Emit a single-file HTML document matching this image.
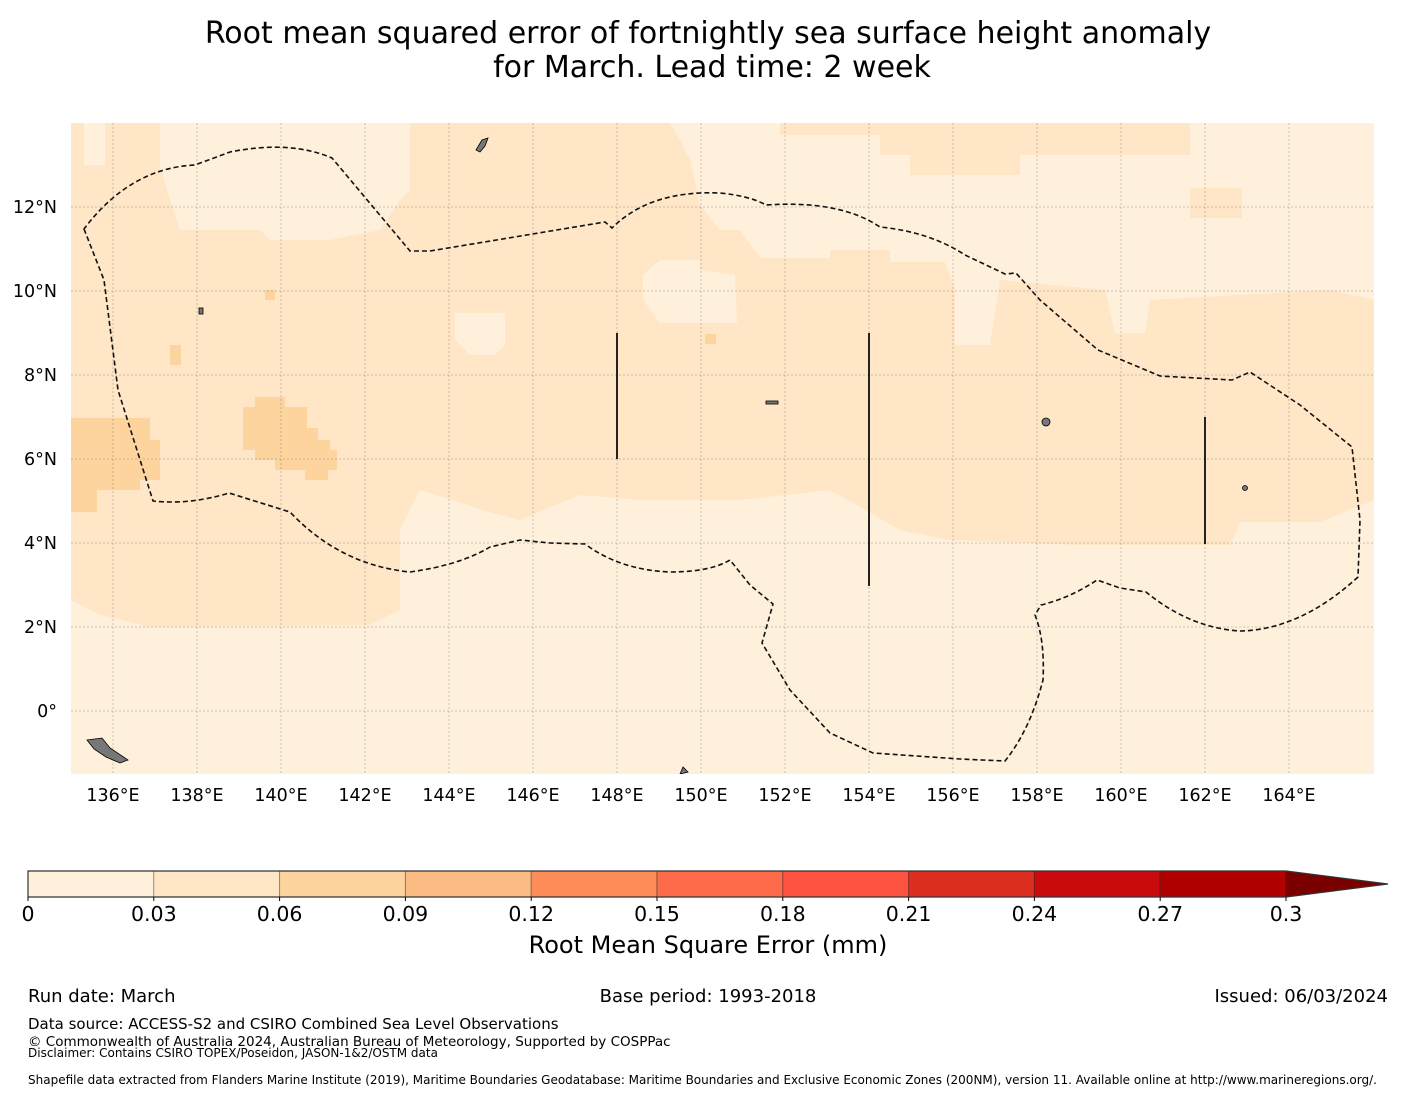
<!DOCTYPE html>
<html><head><meta charset="utf-8"><style>
body{margin:0;background:#fff;width:1416px;height:1095px;overflow:hidden;font-family:"DejaVu Sans","Liberation Sans",sans-serif;}
svg text{font-family:"DejaVu Sans","Liberation Sans",sans-serif;fill:#000}
</style></head><body>
<svg id="chart" width="1416" height="1095" xmlns="http://www.w3.org/2000/svg">
<text x="708" y="43" font-size="30" text-anchor="middle">Root mean squared error of fortnightly sea surface height anomaly</text>
<text x="712" y="77" font-size="30" text-anchor="middle">for March. Lead time: 2 week</text>
<defs><clipPath id="mc"><rect x="71" y="123" width="1303" height="651"/></clipPath></defs>
<g id="map" clip-path="url(#mc)">
<rect x="71" y="123" width="1303" height="651" fill="#fff0dc"/>
<polygon fill="#fee6c6" points="71,123 1374,123 1374,500 1320,522 1240,522 1230,545 1080,545 950,540 900,530 830,490 740,500 700,500 640,500 580,495 520,520 490,512 420,490 400,530 400,610 370,625 150,627 100,615 71,600"/>
<g fill="#fff0dc">
<polygon points="160,123 410,123 410,190 400,200 380,230 330,240 270,240 260,230 180,230 170,200 160,165"/>
<polygon points="84,123 105,123 105,165 84,165"/>
<polygon points="670,123 780,123 780,135 880,135 880,155 910,155 910,175 1020,175 1020,155 1190,155 1190,123 1374,123 1374,300 1330,290 1150,300 1145,333 1115,333 1105,290 1000,280 990,345 955,345 955,290 945,262 890,262 890,250 830,250 830,258 760,258 740,230 720,230 700,205 690,160 680,140"/>
<polygon points="660,260 700,260 700,270 735,275 737,323 660,323 643,300 643,275"/>
<polygon points="455,313 505,313 505,345 495,355 470,355 455,340"/>
<polygon points="710,500 830,500 830,540 900,540 950,545 1080,545 1230,545 1240,522 1320,522 1374,500 1374,774 71,774 71,627 150,627 370,625 400,610 400,560 500,560 540,565 600,580 740,555"/>
</g>
<g fill="#fee6c6">
<rect x="1190" y="188" width="52" height="30"/>
</g>
<g fill="#fdd49e">
<polygon points="71,418 150,418 150,440 160,440 160,480 140,480 140,490 97,490 97,512 71,512"/>
<polygon points="255,397 285,397 285,407 307,407 307,428 318,428 318,440 330,440 330,450 337,450 337,470 328,470 328,480 305,480 305,470 275,470 275,460 255,460 255,450 243,450 243,407 255,407"/>
<rect x="170" y="345" width="11" height="20"/>
<rect x="265" y="290" width="10" height="10"/>
<rect x="705" y="334" width="11" height="10"/>
</g>
<g id="grid" stroke="#666" stroke-width="0.5" stroke-dasharray="2,2" opacity="0.7"></g>
<g fill="#777" stroke="#000" stroke-width="0.8">
<path d="M476,150 l6,-10 l6,-2 l-3,8 l-5,6z"/>
<path d="M87,740 l15,-2 l8,10 l18,12 l-8,3 l-14,-6 l-12,-8z"/>
<circle cx="1046" cy="422" r="4"/>
<circle cx="1245" cy="488" r="2.5"/>
<path d="M680,774 l3,-7 l5,5z"/>
<rect x="199" y="308" width="4" height="6"/>
<rect x="766" y="401" width="12" height="3"/>
</g>
<g stroke="#222" stroke-width="2">
<line x1="617" y1="333" x2="617" y2="459"/>
<line x1="869" y1="333" x2="869" y2="586"/>
<line x1="1205" y1="417" x2="1205" y2="544"/>
</g>
<path fill="none" stroke="#111" stroke-width="1.6" stroke-dasharray="5,3" d="M84,229 L104,280 L118,390 L153,501 Q190,505 229,493 L290,512 Q340,565 410,572 Q460,565 490,547 L520,540 L550,543 L585,544 Q620,570 670,572 Q710,572 730,560 L750,585 L773,604 L762,643 L790,690 L830,733 L873,753 L960,759 L1005,761 Q1030,730 1043,680 Q1045,640 1035,615 L1041,605 Q1070,598 1097,580 L1120,588 L1146,592 Q1190,628 1240,631 Q1300,630 1358,577 L1360,520 L1352,447 L1300,405 L1250,372 L1232,380 L1160,376 L1098,350 L1040,300 L1016,273 L1005,274 L965,255 Q930,232 880,227 Q840,200 766,205 Q750,196 720,193 Q650,190 612,228 L605,222 L430,251 L410,251 L332,158 Q290,140 230,152 L195,165 Q130,168 84,229 Z"/>
</g>
<g id="xlabels"></g>
<g id="ylabels"></g>
<g id="cbar"></g>
<text x="708" y="953" font-size="24" text-anchor="middle">Root Mean Square Error (mm)</text>
<text x="28" y="1002" font-size="18">Run date: March</text>
<text x="708" y="1002" font-size="18" text-anchor="middle">Base period: 1993-2018</text>
<text x="1388" y="1002" font-size="18" text-anchor="end">Issued: 06/03/2024</text>
<text x="28" y="1029" font-size="15">Data source: ACCESS-S2 and CSIRO Combined Sea Level Observations</text>
<text x="28" y="1046" font-size="13.5">© Commonwealth of Australia 2024, Australian Bureau of Meteorology, Supported by COSPPac</text>
<text x="28" y="1057" font-size="12">Disclaimer: Contains CSIRO TOPEX/Poseidon, JASON-1&amp;2/OSTM data</text>
<text x="28" y="1084" font-size="12">Shapefile data extracted from Flanders Marine Institute (2019), Maritime Boundaries Geodatabase: Maritime Boundaries and Exclusive Economic Zones (200NM), version 11. Available online at http://www.marineregions.org/.</text>
</svg>
<script>
const lonTicks=[136,138,140,142,144,146,148,150,152,154,156,158,160,162,164];
const latTicks=[12,10,8,6,4,2,0];
const levels=[0,0.03,0.06,0.09,0.12,0.15,0.18,0.21,0.24,0.27,0.3];
const levelColors=["#fff0dc","#fee6c6","#fdd49e","#fdbb84","#fc8d59","#fe6b4a","#fe5340","#dc2f20","#c90b0e","#b00000"];
const overColor="#7a0000";
const NS="http://www.w3.org/2000/svg";
const X=lon=>113+(lon-136)*42, Y=lat=>711-lat*42;
function mk(t,a,p){const e=document.createElementNS(NS,t);for(const k in a)e.setAttribute(k,a[k]);p.appendChild(e);return e;}
const grid=document.getElementById('grid'),xl=document.getElementById('xlabels'),yl=document.getElementById('ylabels');
lonTicks.forEach(l=>{
 const g=mk('line',{x1:X(l),x2:X(l),y1:123,y2:774},grid);
 
 
 const t=mk('text',{x:X(l),y:801,'font-size':17.5,'text-anchor':'middle'},xl);t.textContent=l+'°E';
 
 
});
latTicks.forEach(l=>{
 const g=mk('line',{x1:71,x2:1374,y1:Y(l),y2:Y(l)},grid);
 
 
 const t=mk('text',{x:57,y:Y(l)+6,'font-size':17.5,'text-anchor':'end'},yl);t.textContent=l===0?'0°':l+'°N';
 
 
});
const cb=document.getElementById('cbar');
const cx0=28,cx1=1286,cy=871,ch=26,vmax=levels[levels.length-1];
const CX=v=>cx0+(v/vmax)*(cx1-cx0);
levelColors.forEach((c,i)=>{
 const r=mk('rect',{x:CX(levels[i]),y:cy,width:CX(levels[i+1])-CX(levels[i]),height:ch,fill:c,stroke:'rgba(0,0,0,0.3)','stroke-width':1},cb);
 
 
});
const ar=mk('polygon',{points:`${cx1},${cy} 1388,${cy+ch/2} ${cx1},${cy+ch}`,fill:overColor},cb);


const ol=mk('polygon',{points:`${cx0},${cy} ${cx1},${cy} 1388,${cy+ch/2} ${cx1},${cy+ch} ${cx0},${cy+ch}`,fill:'none',stroke:'#333','stroke-width':1.2},cb);


levels.forEach(v=>{
 mk('line',{x1:CX(v),x2:CX(v),y1:cy+ch,y2:cy+ch+4,stroke:'#000'},cb);
 const t=mk('text',{x:CX(v),y:921,'font-size':20.5,'text-anchor':'middle'},cb);t.textContent=String(v);
 
 
});
</script>
</body></html>
